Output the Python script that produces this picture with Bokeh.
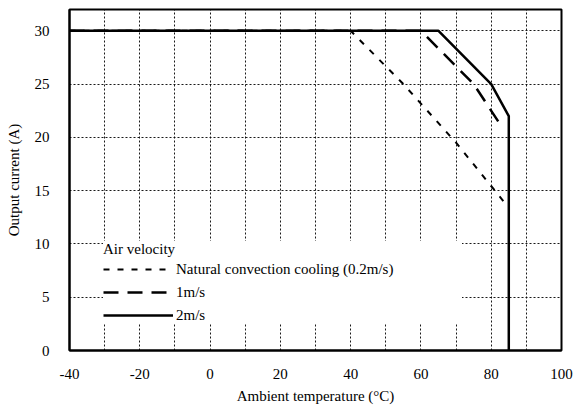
from bokeh.plotting import figure
from bokeh.models import Range1d, SingleIntervalTicker, Legend, LegendItem
from bokeh.embed import file_html
from bokeh.resources import INLINE

# Data
temp_natural = [-40, 40, 55, 70, 84]
curr_natural = [30, 30, 25, 19.5, 13.8]

temp_1ms = [-40, 60, 75, 83]
curr_1ms = [30, 30, 25, 21]

temp_2ms = [-40, 65, 80, 85, 85]
curr_2ms = [30, 30, 25, 22, 0]

x_tick_values = [-40, -20, 0, 20, 40, 60, 80, 100]
x_tick_labels = ["-40", "-20", "0", "20", "40", "60", "80", "100"]

legend_title = "Air velocity"
series_labels = ["Natural convection cooling (0.2m/s)", "1m/s", "2m/s"]

FONT = "Liberation Serif"

p = figure(width=577, height=408, output_backend="svg", toolbar_location=None,
           x_range=Range1d(-40, 100), y_range=Range1d(0, 32),
           min_border_left=69, min_border_right=16, min_border_top=9, min_border_bottom=58)

p.background_fill_color = "white"
p.border_fill_color = "white"
p.outline_line_color = "black"
p.outline_line_width = 2

# axes
p.xaxis.ticker = x_tick_values
p.xaxis.major_label_overrides = {v: s for v, s in zip(x_tick_values, x_tick_labels)}
p.yaxis.ticker = SingleIntervalTicker(interval=5)
for ax in (p.xaxis[0], p.yaxis[0]):
    ax.axis_line_color = "black"
    ax.axis_line_width = 2
    ax.major_tick_line_color = None
    ax.minor_tick_line_color = None
    ax.major_tick_in = 0
    ax.major_tick_out = 0
    ax.major_label_text_font = FONT
    ax.major_label_text_font_size = "15px"
    ax.major_label_text_color = "black"
    ax.axis_label_text_font = FONT
    ax.axis_label_text_font_size = "15px"
    ax.axis_label_text_font_style = "normal"
    ax.axis_label_text_color = "black"

p.xaxis.axis_label = "Ambient temperature (\u00b0C)"
p.yaxis.axis_label = "Output current (A)"
p.xaxis.major_label_standoff = 18
p.xaxis.axis_label_standoff = 6
p.yaxis.major_label_standoff = 16
p.yaxis.axis_label_standoff = 10

# grid
p.xgrid.ticker = SingleIntervalTicker(interval=10)
p.ygrid.ticker = SingleIntervalTicker(interval=5)
for g in (p.xgrid[0], p.ygrid[0]):
    g.grid_line_color = "black"
    g.grid_line_width = 1
    g.grid_line_dash = "2 2"
    g.grid_line_alpha = 0.9

r_nat = p.line(temp_natural, curr_natural, line_color="black", line_width=2, line_dash="6 8")
r_1 = p.line(temp_1ms, curr_1ms, line_color="black", line_width=2.5, line_dash="15 9")
r_2 = p.line(temp_2ms, curr_2ms, line_color="black", line_width=2.5)

legend = Legend(items=[LegendItem(label=series_labels[0], renderers=[r_nat]),
                       LegendItem(label=series_labels[1], renderers=[r_1]),
                       LegendItem(label=series_labels[2], renderers=[r_2])],
                title=legend_title, location=(34, 26))
legend.title_text_font = FONT
legend.title_text_font_size = "15px"
legend.title_text_font_style = "normal"
legend.title_text_color = "black"
legend.title_standoff = 2
legend.label_text_font = FONT
legend.label_text_font_size = "15px"
legend.label_text_color = "black"
legend.glyph_width = 70
legend.glyph_height = 18
legend.label_height = 18
legend.label_width = 286
legend.label_standoff = 3
legend.spacing = 5
legend.padding = 5
legend.margin = 0
legend.border_line_color = None
legend.background_fill_color = "white"
legend.background_fill_alpha = 1
p.add_layout(legend)

open("out.html", "w").write(file_html(p, INLINE))
